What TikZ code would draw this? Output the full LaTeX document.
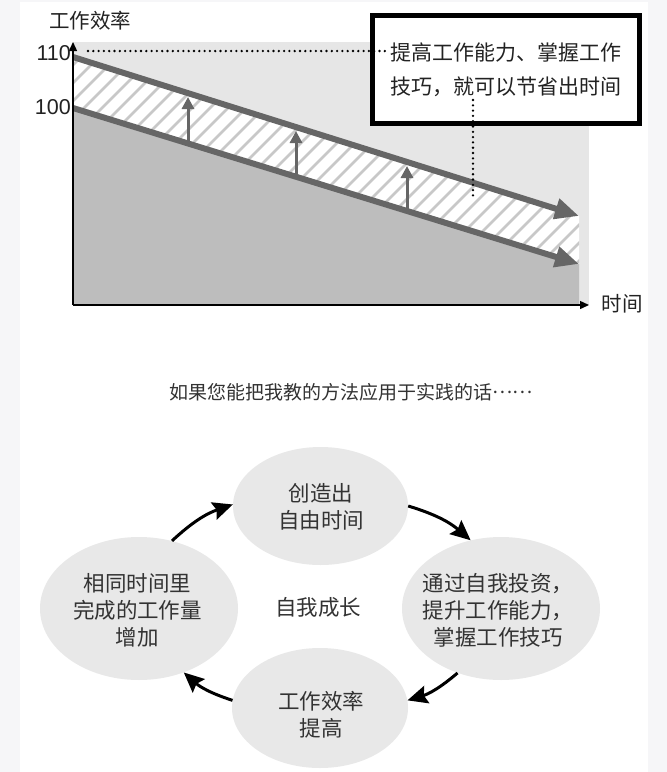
\documentclass[tikz,border=0pt]{standalone}
\usepackage{fontspec}
\setmainfont{Liberation Sans}
\newfontfamily\cjk{Noto Sans CJK SC}
\usetikzlibrary{arrows.meta,shapes.geometric}
\definecolor{pagebg}{HTML}{F6F6F8}
\definecolor{lightarea}{HTML}{E6E6E6}
\definecolor{darkarea}{HTML}{BDBDBD}
\definecolor{trend}{HTML}{666666}
\definecolor{hatchc}{HTML}{C8C8C8}
\definecolor{bubble}{HTML}{E8E8E8}
\definecolor{ink}{HTML}{333333}
\definecolor{labelink}{HTML}{222222}
\begin{document}
\begin{tikzpicture}[x=1pt,y=-1pt,
  trendline/.style={draw=trend,line width=6pt,-{Triangle[length=24pt,width=20pt]}},
  risearrow/.style={draw=trend,line width=3pt,-{Triangle[length=12pt,width=12pt]}},
  axisline/.style={draw=black,line width=1.4pt,-{Triangle[length=9pt,width=8pt]}},
  dotline/.style={draw=black,line width=2.6pt,line cap=round,dash pattern=on 0pt off 5.3pt},
  bubblenode/.style={ellipse,fill=bubble,draw=none,inner sep=0pt},
  bubbletext/.style={align=center,text=ink,font=\cjk\fontsize{21.5}{27}\selectfont,inner sep=0pt},
  cyclearrow/.style={draw=black,line width=3pt,-{Stealth[length=20pt,width=18pt,inset=3pt]},bend left=12},
  axislabel/.style={text=labelink,font=\cjk\fontsize{20.5}{20.5}\selectfont,inner sep=0pt},
  ticklabel/.style={text=labelink,font=\fontsize{21.5}{21.5}\selectfont,inner sep=0pt,anchor=east},
]
\useasboundingbox (0,0) rectangle (667,772);
% page background
\fill[pagebg] (0,0) rectangle (667,772);
\fill[white] (20,2) rectangle (648,772);

% chart areas
\fill[lightarea] (73,42) rectangle (589,305);
\fill[darkarea] (73,108) -- (579,264) -- (579,305) -- (73,305) -- cycle;
\fill[white] (73,57) -- (579,216) -- (579,264) -- (73,108) -- cycle;
\begin{scope}
  \clip (73,57) -- (579,216) -- (579,264) -- (73,108) -- cycle;
  \foreach \i in {0,...,44}
    \draw[hatchc,line width=2.6pt] (-180+\i*18,300) -- ++(260,-260);
\end{scope}

% trend lines
\coordinate (u0) at (73,57);
\coordinate (u1) at (579,216);
\coordinate (l0) at (73,108);
\coordinate (l1) at (579,264);
\draw[trendline] (u0) -- (u1);
\draw[trendline] (l0) -- (l1);

% rise arrows
\coordinate (ra0) at (188,143.5); \coordinate (ra1) at (188,97);
\coordinate (rb0) at (296,176.5); \coordinate (rb1) at (296,131);
\coordinate (rc0) at (407,210.5); \coordinate (rc1) at (407,166);
\draw[risearrow] (ra0) -- (ra1);
\draw[risearrow] (rb0) -- (rb1);
\draw[risearrow] (rc0) -- (rc1);

% axes
\coordinate (origin) at (73,305);
\coordinate (ytop) at (73,42);
\coordinate (xend) at (589,305);
\draw[axisline] (origin) -- (ytop);
\draw[axisline] (origin) -- (xend);

\node[ticklabel] (t110) at (71,53) {110};
\node[ticklabel] (t100) at (71,107) {100};
\node[axislabel] (ylab) at (90,21) {工作效率};
\node[axislabel] (xlab) at (622,304) {时间};

% note box
\node[draw=black,line width=5pt,fill=white,minimum width=267pt,minimum height=108pt,
      inner sep=0pt,align=center,text=labelink,font=\cjk\fontsize{21}{34}\selectfont]
      (note) at (506,69.5) {提高工作能力、掌握工作\\技巧，就可以节省出时间};

% dotted guides
\coordinate (dh0) at (88,51);
\coordinate (dh1) at (388,51);
\coordinate (dv0) at (473,100);
\coordinate (dv1) at (473,200);
\draw[dotline] (dh0) -- (dh1);
\draw[dotline] (dv0) -- (dv1);

% caption
\node[text=ink,font=\cjk\fontsize{19}{19}\selectfont,inner sep=0pt] (caption) at (351,392)
  {如果您能把我教的方法应用于实践的话\raisebox{0.32em}{……}};

% cycle
\node[bubblenode,minimum width=175pt,minimum height=118pt] (top) at (320.5,506) {};
\node[bubblenode,minimum width=198pt,minimum height=143pt] (left) at (139,608.5) {};
\node[bubblenode,minimum width=198pt,minimum height=143pt] (right) at (501,608.5) {};
\node[bubblenode,minimum width=176pt,minimum height=120pt] (bottom) at (320,708) {};

\node[bubbletext] (toptext) at (321,507) {创造出\\自由时间};
\node[bubbletext] (lefttext) at (137.5,610) {相同时间里\\完成的工作量\\增加};
\node[bubbletext] (righttext) at (498,610) {通过自我投资，\\提升工作能力，\\掌握工作技巧};
\node[bubbletext] (bottomtext) at (321,715) {工作效率\\提高};
\node[bubbletext] (centertext) at (318,607) {自我成长};

\draw[cyclearrow] (left.64) to (top.179);
\draw[cyclearrow] (top.0) to (right.114);
\draw[cyclearrow] (right.236) to (bottom.5);
\draw[cyclearrow] (bottom.175) to (left.305);
\end{tikzpicture}
\end{document}
